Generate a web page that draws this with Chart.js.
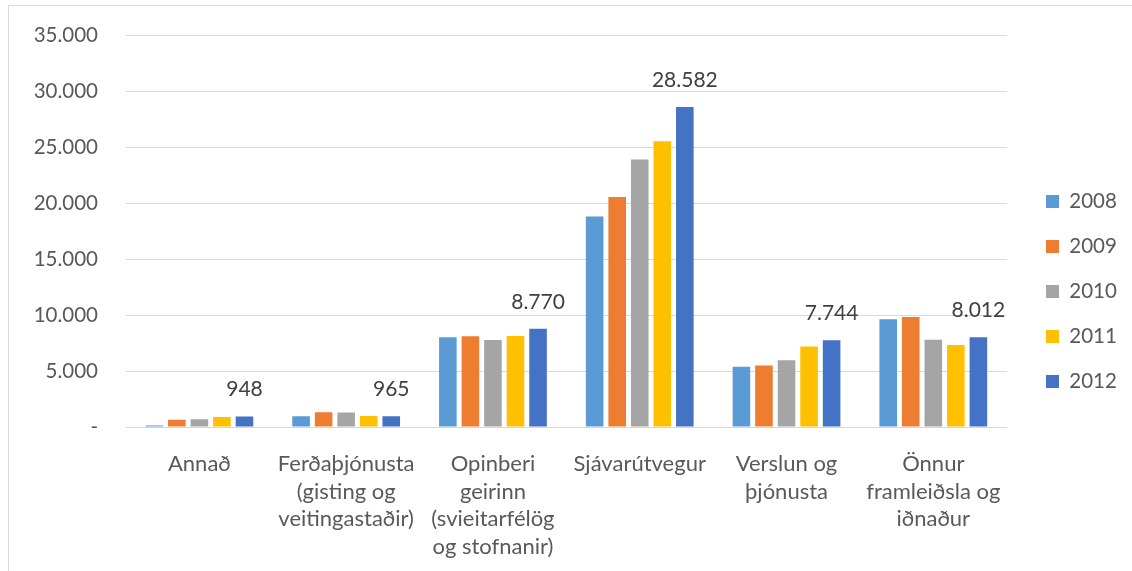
<!DOCTYPE html>
<html>
<head>
<meta charset="utf-8">
<script src="https://cdn.jsdelivr.net/npm/chart.js@4/dist/chart.umd.min.js"></script>
<style>
  html, body { margin: 0; padding: 0; background: #ffffff; }
  #wrap { width: 1132px; height: 571px; position: relative; }
</style>
</head>
<body>
<div id="wrap"><canvas id="c" width="1132" height="571"></canvas></div>
<script>
const categories = [
  ["Annað"],
  ["Ferðaþjónusta", "(gisting og", "veitingastaðir)"],
  ["Opinberi", "geirinn", "(svieitarfélög", "og stofnanir)"],
  ["Sjávarútvegur"],
  ["Verslun og", "þjónusta"],
  ["Önnur", "framleiðsla og", "iðnaður"]
];
const seriesNames = ["2008", "2009", "2010", "2011", "2012"];
const values2008 = [130, 950, 8010, 18790, 5390, 9620];
const values2009 = [650, 1310, 8100, 20540, 5480, 9820];
const values2010 = [700, 1300, 7770, 23880, 5950, 7800];
const values2011 = [900, 980, 8120, 25510, 7180, 7320];
const values2012 = [948, 965, 8770, 28582, 7744, 8012];
const yTicks = [0, 5000, 10000, 15000, 20000, 25000, 30000, 35000];

const colors = ["#5B9BD5", "#ED7D31", "#A5A5A5", "#FFC000", "#4472C4"];
const allValues = [values2008, values2009, values2010, values2011, values2012];
const FONT = "Lato";

function fmt(v) {
  if (v === 0) return "-";
  return String(Math.round(v)).replace(/\B(?=(\d{3})+(?!\d))/g, ".");
}

const frame = {
  id: "frame",
  beforeDraw(chart) {
    const ctx = chart.ctx;
    ctx.save();
    ctx.strokeStyle = "#d9d9d9";
    ctx.lineWidth = 1;
    ctx.beginPath();
    ctx.moveTo(8.5, 600);
    ctx.lineTo(8.5, 5.5);
    ctx.lineTo(1200, 5.5);
    ctx.stroke();
    ctx.restore();
  }
};

const legendShift = {
  id: "legendShift",
  afterLayout(chart) {
    const lg = chart.legend;
    if (!lg) return;
    const pad = lg.options.labels.padding;
    const w = lg.right - lg.left;
    lg.left = 1046 - pad;
    lg.right = lg.left + w;
    lg.top -= 11.5;
    lg.bottom -= 11.5;
  }
};

const dataLabels = {
  id: "dataLabels",
  afterDatasetsDraw(chart) {
    const ctx = chart.ctx;
    const idx = 4;
    const meta = chart.getDatasetMeta(idx);
    ctx.save();
    ctx.font = "21px " + FONT;
    ctx.fillStyle = "#404040";
    ctx.textAlign = "center";
    ctx.textBaseline = "middle";
    meta.data.forEach((bar, i) => {
      ctx.fillText(fmt(chart.data.datasets[idx].data[i]), bar.x, bar.y - 27);
    });
    ctx.restore();
  }
};

new Chart(document.getElementById("c"), {
  type: "bar",
  data: {
    labels: categories,
    datasets: seriesNames.map((n, i) => ({
      label: n,
      data: allValues[i],
      backgroundColor: colors[i],
      borderWidth: 0,
      categoryPercentage: 0.768,
      barPercentage: 0.78
    }))
  },
  options: {
    responsive: false,
    animation: false,
    devicePixelRatio: 1,
    layout: { padding: { top: 35, left: 0, right: 20, bottom: 0 } },
    plugins: {
      legend: {
        position: "right",
        align: "center",
        labels: {
          boxWidth: 13,
          boxHeight: 13,
          padding: 24.5,
          color: "#595959",
          font: { family: FONT, size: 20.5 }
        }
      },
      tooltip: { enabled: false }
    },
    scales: {
      x: {
        grid: { display: false },
        border: { display: true, color: "#d9d9d9", width: 1 },
        ticks: {
          color: "#595959",
          font: { family: FONT, size: 22, lineHeight: 1.26 },
          padding: 15,
          maxRotation: 0,
          autoSkip: false
        },
        afterFit(scale) { scale.height = 144; }
      },
      y: {
        min: 0,
        max: 35000,
        afterBuildTicks(scale) { scale.ticks = yTicks.map(v => ({ value: v })); },
        grid: { color: "#d9d9d9", lineWidth: 1, drawTicks: true, tickLength: 28, tickColor: "rgba(0,0,0,0)" },
        border: { display: false },
        ticks: {
          color: "#595959",
          font: { family: FONT, size: 20.5 },
          padding: 0,
          callback: (v) => fmt(v)
        },
        afterFit(scale) { scale.width = 126; }
      }
    }
  },
  plugins: [frame, legendShift, dataLabels]
});
</script>
</body>
</html>
